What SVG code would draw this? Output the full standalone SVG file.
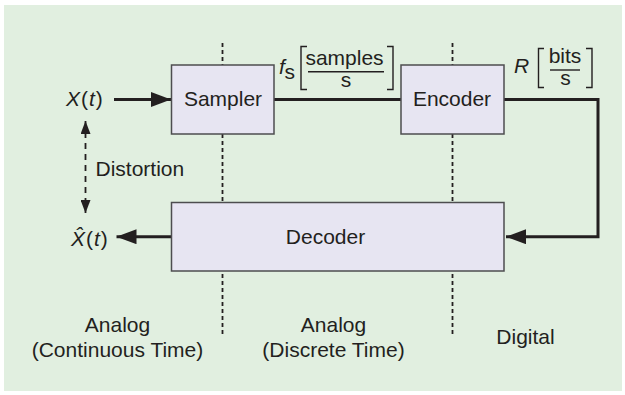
<svg xmlns="http://www.w3.org/2000/svg" width="625" height="395" viewBox="0 0 625 395">
  <style>
    .box { fill: #e7e5f2; stroke: #4d4d4f; stroke-width: 1.5; }
    .t { font-family: "Liberation Sans", Arial, sans-serif; font-size: 21px; fill: #231f20; }
    .it { font-style: italic; }
    .div { stroke: #231f20; stroke-width: 1.8; stroke-dasharray: 4 3; fill: none; }
    .wire { stroke: #231f20; stroke-width: 3; fill: none; }
    .dist { stroke: #231f20; stroke-width: 1.8; stroke-dasharray: 6 5; fill: none; }
    .brk { stroke: #231f20; stroke-width: 1.4; fill: none; }
  </style>
  <defs>
    <marker id="ah" markerUnits="userSpaceOnUse" markerWidth="20" markerHeight="15" refX="20" refY="7.5" orient="auto">
      <path d="M0,0 L20,7.5 L0,15 z" fill="#231f20"/>
    </marker>
    <marker id="ahs" markerUnits="userSpaceOnUse" markerWidth="13" markerHeight="10" refX="13" refY="5" orient="auto-start-reverse">
      <path d="M0,0 L13,5 L0,10 z" fill="#231f20"/>
    </marker>
  </defs>

  <rect x="0" y="0" width="625" height="395" fill="#ffffff"/>
  <rect x="4" y="5" width="618" height="386" fill="#e1efe0"/>

  <g id="dividers">
    <line class="div" x1="222.5" y1="43" x2="222.5" y2="335"/>
    <line class="div" x1="452.5" y1="43" x2="452.5" y2="335"/>
  </g>

  <g id="connectors">
    <line class="wire" x1="114" y1="99.5" x2="171" y2="99.5" marker-end="url(#ah)"/>
    <line class="wire" x1="274" y1="99.5" x2="401" y2="99.5"/>
    <polyline class="wire" points="504,99.5 598,99.5 598,236.7 506,236.7" marker-end="url(#ah)"/>
    <line class="wire" x1="171" y1="236.7" x2="116.5" y2="236.7" marker-end="url(#ah)"/>
    <line class="dist" x1="85.5" y1="121" x2="85.5" y2="213" marker-start="url(#ahs)" marker-end="url(#ahs)"/>
  </g>

  <g id="sampler">
    <rect class="box" x="171.5" y="65" width="102.5" height="69"/>
    <text class="t" x="223" y="106" text-anchor="middle">Sampler</text>
  </g>

  <g id="encoder">
    <rect class="box" x="401" y="65" width="103" height="69"/>
    <text class="t" x="452" y="106" text-anchor="middle">Encoder</text>
  </g>

  <g id="decoder">
    <rect class="box" x="171.5" y="202.5" width="332.5" height="68.5"/>
    <text class="t" x="325.5" y="244" text-anchor="middle">Decoder</text>
  </g>

  <g id="input">
    <text class="t" x="66" y="106" letter-spacing="1"><tspan class="it">X</tspan>(<tspan class="it">t</tspan>)</text>
  </g>

  <g id="output">
    <text class="t" x="71" y="245.5" letter-spacing="1"><tspan class="it">X&#x302;</tspan>(<tspan class="it">t</tspan>)</text>
  </g>

  <g id="distortion">
    <text class="t" x="95.5" y="175.5">Distortion</text>
  </g>

  <g id="rate-fs">
    <text class="t it" x="279" y="74" font-size="20">f</text>
    <text class="t" x="284.5" y="79" font-size="14">s</text>
    <path class="brk" d="M307,46.5 H301 V89.5 H307"/>
    <path class="brk" d="M387,46.5 H393 V89.5 H387"/>
    <text class="t" x="344.5" y="65" text-anchor="middle">samples</text>
    <line class="brk" x1="308" y1="71.7" x2="384" y2="71.7"/>
    <text class="t" x="346" y="86.5" text-anchor="middle">s</text>
  </g>

  <g id="rate-R">
    <text class="t it" x="514" y="72.5">R</text>
    <path class="brk" d="M544,48.5 H538.5 V87.5 H544"/>
    <path class="brk" d="M586,48.5 H592 V87.5 H586"/>
    <text class="t" x="565" y="63.3" text-anchor="middle">bits</text>
    <line class="brk" x1="550" y1="70" x2="580" y2="70"/>
    <text class="t" x="565.5" y="85" text-anchor="middle">s</text>
  </g>

  <g id="regions">
    <text class="t" x="117.5" y="331.5" text-anchor="middle">Analog</text>
    <text class="t" x="117.5" y="357" text-anchor="middle">(Continuous Time)</text>
    <text class="t" x="333.5" y="331.5" text-anchor="middle">Analog</text>
    <text class="t" x="333.5" y="357" text-anchor="middle">(Discrete Time)</text>
    <text class="t" x="525.5" y="344.3" text-anchor="middle">Digital</text>
  </g>
</svg>
